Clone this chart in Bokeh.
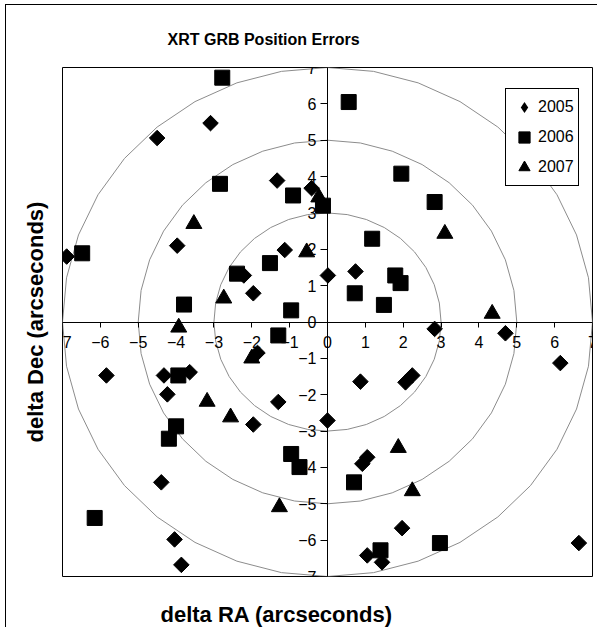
import numpy as np
from bokeh.plotting import figure
from bokeh.models import FixedTicker, Legend, LegendItem, Range1d, Title
from bokeh.embed import file_html
from bokeh.resources import INLINE

title_text = "XRT GRB Position Errors"
x_title = "delta RA (arcseconds)"
y_title = "delta Dec (arcseconds)"
series_names = ["2005", "2006", "2007"]
axis_ticks = list(range(-7, 8))
ring_radii = [3, 5, 7]

x_2005 = [-4.50, -3.09, -1.33, -0.42, -3.97, -6.89, -1.13, -2.21, -1.96, 0.01, 0.74,
          2.83, 4.70, -5.84, -4.32, -3.64, -4.23, -1.85, -1.96, -1.30, 0.00, -4.39,
          -4.04, -3.86, 6.15, 0.87, 2.06, 2.24, 0.92, 1.05, 1.97, 6.64, 1.05, 1.44]
y_2005 = [5.06, 5.47, 3.89, 3.68, 2.10, 1.80, 1.98, 1.28, 0.79, 1.28, 1.39,
          -0.19, -0.31, -1.47, -1.47, -1.38, -1.99, -0.85, -2.82, -2.20, -2.71, -4.41,
          -5.98, -6.68, -1.13, -1.64, -1.66, -1.47, -3.90, -3.72, -5.67, -6.08, -6.42, -6.61]

x_2006 = [-2.78, -2.84, -0.91, -0.12, -6.48, -1.52, -2.39, -3.79, -0.96, -1.30, 0.56,
          1.95, 2.83, 1.18, 0.72, 1.79, 1.93, 1.49, -3.94, -4.00, -4.19, -0.96, -0.74,
          -6.15, 0.70, 2.97, 1.40]
y_2006 = [6.72, 3.80, 3.48, 3.20, 1.89, 1.62, 1.33, 0.48, 0.32, -0.37, 6.05,
          4.08, 3.30, 2.29, 0.79, 1.28, 1.07, 0.47, -1.47, -2.87, -3.21, -3.63, -3.99,
          -5.39, -4.41, -6.08, -6.28]

x_2007 = [-0.23, -3.53, -0.55, -2.74, -3.93, 3.10, 4.35, -2.00, -3.18, -2.56, -1.27, 1.87, 2.24]
y_2007 = [3.43, 2.70, 1.92, 0.65, -0.15, 2.43, 0.23, -1.00, -2.19, -2.62, -5.09, -3.46, -4.65]

FONT = "Liberation Sans"

p = figure(width=592, height=623, x_range=Range1d(-7, 7), y_range=Range1d(-7, 7),
           output_backend="svg", toolbar_location=None,
           min_border_left=56, min_border_right=6, min_border_top=62, min_border_bottom=52)
p.styles = {"margin-left": "5px", "margin-top": "4px",
            "border-left": "1px solid black", "border-top": "1px solid black"}
p.grid.visible = False
p.outline_line_color = "black"
p.outline_line_width = 1
p.outline_line_alpha = 1
p.background_fill_color = "white"
p.border_fill_color = "white"

for ax in (p.xaxis[0], p.yaxis[0]):
    ax.fixed_location = 0
    ax.ticker = FixedTicker(ticks=axis_ticks)
    ax.minor_tick_line_color = None
    ax.major_tick_in = 0
    ax.axis_line_color = "black"
    ax.major_tick_line_color = "black"
    ax.major_label_text_font = FONT
    ax.major_label_text_font_size = "16px"
    ax.major_label_text_color = "black"
p.xaxis.major_tick_out = 5
p.xaxis.major_label_standoff = 9
p.yaxis.major_tick_out = 7
p.yaxis.major_label_standoff = 4

theta = np.linspace(0, 2 * np.pi, 37)
for r in ring_radii:
    p.line(r * np.cos(theta), r * np.sin(theta), line_color="#8c8c8c", line_width=1)

r05 = p.scatter(x_2005, y_2005, marker="square", size=11, angle=np.pi / 4,
                fill_color="black", line_color="black")
r06 = p.scatter(x_2006, y_2006, marker="square", size=15,
                fill_color="black", line_color="black")
r07 = p.scatter(x_2007, y_2007, marker="triangle", size=16,
                fill_color="black", line_color="black")
# legend swatch for the diamond series (the legend ignores marker rotation);
# zero size so it draws nothing in the plot itself
r05_key = p.scatter(x_2005, y_2005, marker="diamond", size=0,
                    fill_color="black", line_color=None)

legend = Legend(items=[LegendItem(label=series_names[0], renderers=[r05_key]),
                       LegendItem(label=series_names[1], renderers=[r06]),
                       LegendItem(label=series_names[2], renderers=[r07])],
                location=(443, 390), orientation="vertical",
                border_line_color="black", border_line_width=1, border_line_alpha=1,
                background_fill_color="white", background_fill_alpha=1,
                label_text_font=FONT, label_text_font_size="16px",
                label_text_color="black",
                glyph_width=28, glyph_height=28, label_height=20,
                spacing=2, padding=4, margin=0, label_standoff=-4)
p.add_layout(legend)

p.title.text = title_text
p.title.align = "left"
p.title.offset = 105
p.title.standoff = 40
p.title.text_font = FONT
p.title.text_font_style = "bold"
p.title.text_font_size = "16px"
p.title.text_color = "black"

# spacer between the plot box and the x-axis title
p.add_layout(Title(text=" ", standoff=20, text_font_size="1px"), "below")
p.add_layout(Title(text=x_title, align="left", offset=98, standoff=0,
                   text_font=FONT, text_font_style="bold", text_font_size="22px",
                   text_color="black"), "below")
p.add_layout(Title(text=y_title, align="center", standoff=29,
                   text_font=FONT, text_font_style="bold", text_font_size="22px",
                   text_color="black"), "left")

open("out.html", "w").write(file_html(p, INLINE))
